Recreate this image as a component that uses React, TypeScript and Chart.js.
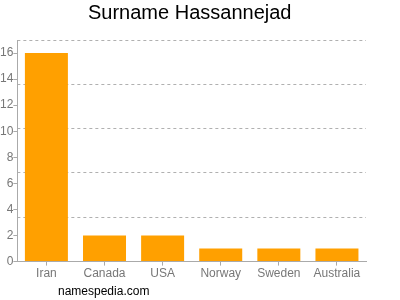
import React, { useEffect, useRef } from "react";
import { Chart, registerables } from "chart.js";
Chart.register(...registerables);

const categories = ["Iran", "Canada", "USA", "Norway", "Sweden", "Australia"];
const counts = [16, 2, 2, 1, 1, 1];
const yTicks = [0, 2, 4, 6, 8, 10, 12, 14, 16];
const gridLevels = [3.4, 6.8, 10.2, 13.6, 17];
const yMax = 17;
const titleText = "Surname Hassannejad";
const footerText = "namespedia.com";

export default function App() {
  const ref = useRef<HTMLCanvasElement>(null);
  useEffect(() => {
    if (!ref.current) return;
    const axisColor = "#aaaaaa";
    const textColor = "#777777";
    const font = { family: "Liberation Sans, Arial, sans-serif", size: 12 };
    const chart = new Chart(ref.current, {
      type: "bar",
      data: {
        labels: categories,
        datasets: [
          {
            data: counts,
            backgroundColor: "#ffa000",
            borderWidth: 0,
            barPercentage: 0.74,
            categoryPercentage: 1,
            yAxisID: "y",
          },
        ],
      },
      options: {
        animation: false,
        responsive: false,
        maintainAspectRatio: false,
        layout: { padding: { left: 0, right: 34, top: 40, bottom: 18 } },
        plugins: {
          legend: { display: false },
          tooltip: { enabled: false },
          title: { display: false },
        },
        scales: {
          x: {
            grid: {
              offset: false,
              drawOnChartArea: false,
              drawTicks: true,
              tickLength: 4,
              color: axisColor,
            },
            border: { display: true, color: axisColor },
            ticks: { color: textColor, font, padding: 1, maxRotation: 0 },
          },
          y: {
            position: "left",
            min: 0,
            max: yMax,
            afterBuildTicks: (axis: any) => {
              axis.ticks = yTicks.map((v) => ({ value: v }));
            },
            grid: {
              drawOnChartArea: false,
              drawTicks: true,
              tickLength: 4,
              color: axisColor,
            },
            border: { display: true, color: axisColor },
            ticks: { color: textColor, font, padding: 0 },
          },
          y2: {
            position: "right",
            min: 0,
            max: yMax,
            afterBuildTicks: (axis: any) => {
              axis.ticks = gridLevels.map((v) => ({ value: v }));
            },
            grid: {
              drawOnChartArea: true,
              drawTicks: false,
              color: "#b0b0b0",
              lineWidth: 1,
            },
            border: { display: false, dash: [3, 3] },
            ticks: { display: false },
          } as any,
        },
      },
    });
    return () => chart.destroy();
  }, []);

  return (
    <div style={{ position: "fixed", left: 0, top: 0, width: 400, height: 300, background: "#fff" }}>
      <canvas ref={ref} width={400} height={300} style={{ width: 400, height: 300 }} />
      <div
        style={{
          position: "absolute",
          left: 88,
          top: 2,
          fontFamily: "Liberation Sans, Arial, sans-serif",
          fontSize: 20,
          color: "#000",
          lineHeight: "20px",
          whiteSpace: "nowrap",
        }}
      >
        {titleText}
      </div>
      <div
        style={{
          position: "absolute",
          left: 58,
          top: 284,
          fontFamily: "Liberation Sans, Arial, sans-serif",
          fontSize: 12,
          color: "#000",
          lineHeight: "14px",
        }}
      >
        {footerText}
      </div>
    </div>
  );
}
